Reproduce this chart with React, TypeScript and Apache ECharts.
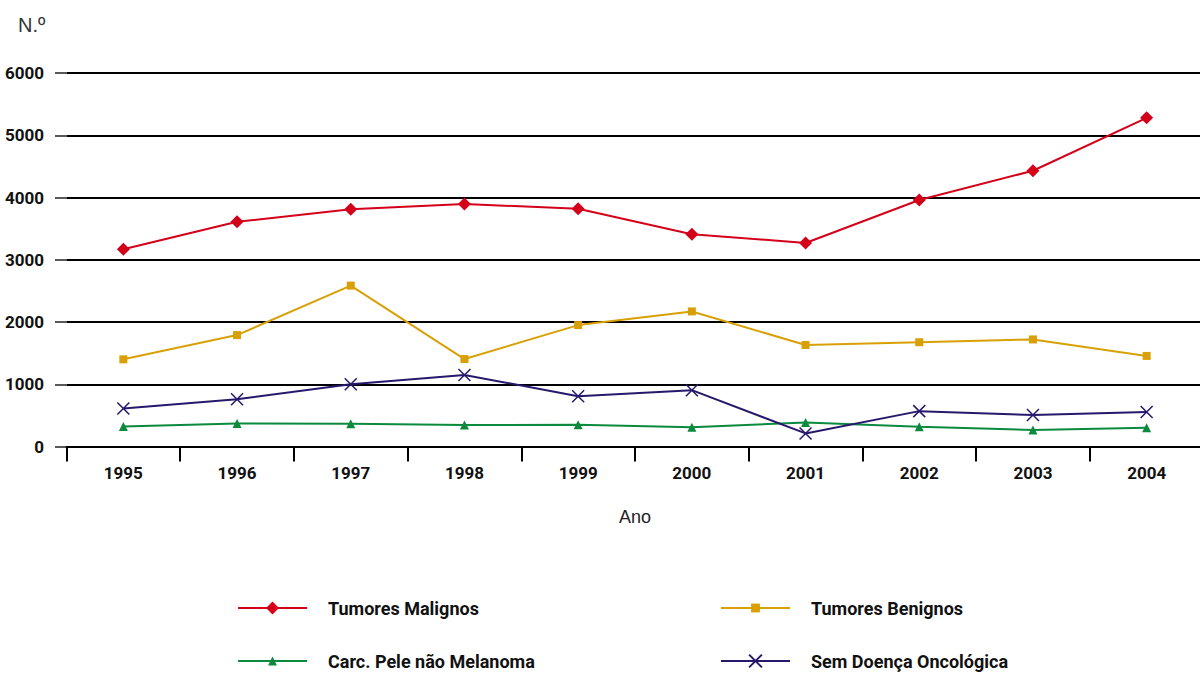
import React, { useEffect, useRef } from "react";
import * as echarts from "echarts";

const years = ["1995", "1996", "1997", "1998", "1999", "2000", "2001", "2002", "2003", "2004"];
const malignos = [3170, 3610, 3810, 3895, 3820, 3410, 3270, 3960, 4430, 5280];
const benignos = [1400, 1790, 2585, 1405, 1950, 2170, 1630, 1675, 1720, 1455];
const carcPele = [320, 370, 365, 345, 348, 310, 385, 318, 265, 302];
const semDoenca = [610, 758, 1000, 1150, 808, 905, 210, 568, 505, 555];

const names = ["Tumores Malignos", "Tumores Benignos", "Carc. Pele não Melanoma", "Sem Doença Oncológica"];
const colors = ["#d4001a", "#d9a006", "#0b8a3e", "#27186c"];
const yTicks = [0, 1000, 2000, 3000, 4000, 5000, 6000];

const boldFont = "Roboto, 'Liberation Sans', sans-serif";
const regFont = "'Liberation Sans', Arial, sans-serif";

export default function App() {
  const ref = useRef<HTMLDivElement>(null);
  useEffect(() => {
    document.body.style.margin = "0";
    const chart = echarts.init(ref.current!, null, { renderer: "svg" });
    const mk = (i: number, data: number[], symbol: string, size: number, extra: any = {}) => ({
      name: names[i],
      type: "line",
      data,
      symbol,
      symbolSize: size,
      color: colors[i],
      lineStyle: { color: colors[i], width: 2 },
      itemStyle: { color: colors[i], ...extra },
      z: 3,
    });
    const legendCommon = {
      orient: "horizontal",
      padding: 0,
      itemWidth: 69,
      itemHeight: 16,
      textStyle: {
        fontFamily: boldFont,
        fontWeight: "bold",
        fontSize: 18,
        color: "#111",
        padding: [0, 0, 0, 16],
      },
    };
    chart.setOption({
      animation: false,
      grid: { left: 66.5, right: -3.5, top: 73, bottom: 226.5, containLabel: false, outerBoundsMode: "none" },
      xAxis: {
        type: "category",
        data: years,
        boundaryGap: true,
        name: "Ano",
        nameLocation: "middle",
        nameGap: 61,
        nameTextStyle: { fontFamily: regFont, fontSize: 18, color: "#222" },
        axisLine: { show: true, lineStyle: { color: "#000", width: 2 } },
        axisTick: { show: true, interval: 0, length: 15, lineStyle: { color: "#000", width: 2 } },
        axisLabel: {
          interval: 0,
          margin: 18,
          fontFamily: boldFont,
          fontWeight: "bold",
          fontSize: 17,
          color: "#111",
        },
        splitLine: { show: false },
      },
      yAxis: {
        type: "value",
        min: yTicks[0],
        max: yTicks[yTicks.length - 1],
        interval: 1000,
        axisLine: { show: false },
        axisTick: { show: true, length: 11.5, lineStyle: { color: "#222", width: 1.5 } },
        axisLabel: {
          margin: 22.5,
          formatter: (v: number) => String(v),
          fontFamily: boldFont,
          fontWeight: "bold",
          fontSize: 17,
          color: "#111",
        },
        splitLine: { show: true, lineStyle: { color: "#000", width: 2 } },
      },
      legend: [
        { ...legendCommon, left: 237, top: 599, data: [names[0]] },
        { ...legendCommon, itemHeight: 11, left: 720, top: 599, data: [names[1]] },
        { ...legendCommon, itemHeight: 11, left: 237, top: 652, data: [names[2]] },
        { ...legendCommon, left: 720, top: 652, data: [names[3]] },
      ],
      graphic: [
        {
          type: "text",
          left: 18,
          top: 15,
          style: { text: "N.º", fontFamily: regFont, fontSize: 20, fill: "#333" },
        },
      ],
      series: [
        mk(0, malignos, "diamond", 13),
        mk(1, benignos, "rect", 8),
        mk(2, carcPele, "triangle", 9),
        mk(3, semDoenca, "path://M0,0L10,10M10,0L0,10", 12, {
          borderColor: colors[3],
          borderWidth: 1.5,
          color: "none",
        }),
      ],
    });
    return () => chart.dispose();
  }, []);
  return <div ref={ref} style={{ width: 1200, height: 673 }} />;
}
